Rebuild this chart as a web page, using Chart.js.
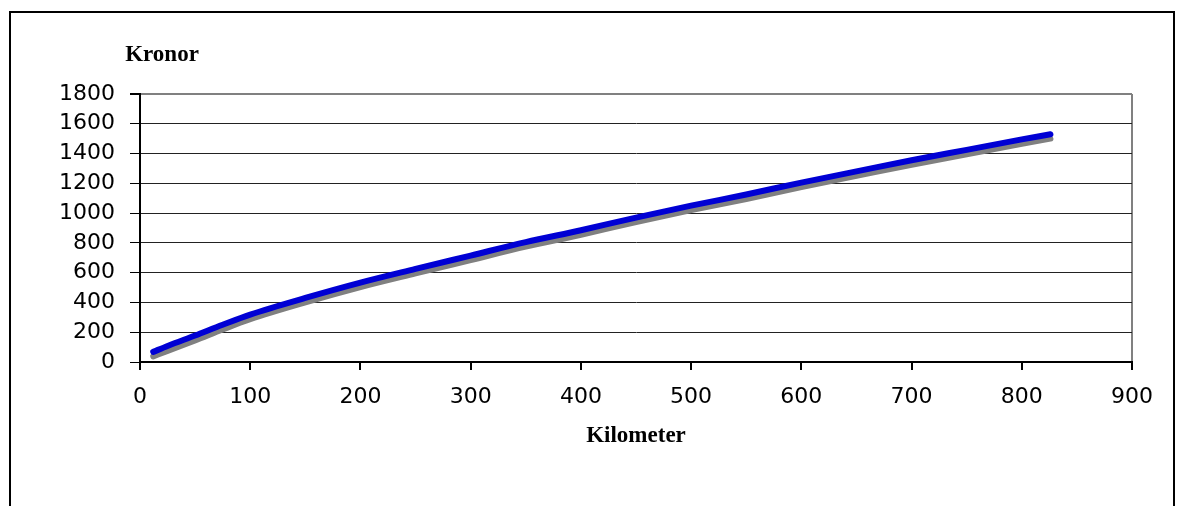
<!DOCTYPE html>
<html>
<head>
<meta charset="utf-8">
<script src="https://cdn.jsdelivr.net/npm/chart.js@4/dist/chart.umd.min.js"></script>
<style>
  html, body { margin: 0; padding: 0; background: #fff; }
  #wrap { position: relative; width: 1183px; height: 506px; overflow: hidden; }
  #c { position: absolute; left: 0; top: 0; }
  #frame { position: absolute; left: 9px; top: 11px; width: 1162px; height: 600px; border: 2px solid #000; pointer-events: none; }
</style>
</head>
<body>
<div id="wrap">
  <canvas id="c" width="1183" height="506"></canvas>
  <div id="frame"></div>
</div>
<script>
const km = [12, 25, 50, 75, 100, 150, 200, 250, 300, 350, 400, 450, 500, 550, 600, 650, 700, 750, 800, 826];
const kronorBlue = [68, 108, 178, 250, 318, 430, 533, 625, 715, 805, 885, 970, 1050, 1125, 1205, 1280, 1355, 1425, 1495, 1530];
const kronorGray = [38, 75, 145, 218, 287, 400, 503, 595, 685, 775, 855, 940, 1020, 1095, 1175, 1250, 1325, 1395, 1465, 1500];
const yTitle = 'Kronor';
const xTitle = 'Kilometer';

const tickFont = { family: 'DejaVu Sans', size: 22 };
const titleFont = { family: 'Liberation Serif', size: 23, weight: 'bold' };

const toPoints = vals => km.map((k, i) => ({ x: k, y: vals[i] }));

// "Kronor" sits above the y axis, horizontal
const yLabel = {
  id: 'yLabel',
  afterDraw(chart) {
    const ctx = chart.ctx;
    ctx.save();
    ctx.font = 'bold 23px "Liberation Serif"';
    ctx.fillStyle = '#000';
    ctx.textAlign = 'center';
    ctx.textBaseline = 'alphabetic';
    ctx.fillText(yTitle, chart.chartArea.left + 22, chart.chartArea.top - 33);
    ctx.restore();
  }
};

const bg = {
  id: 'bg',
  beforeDraw(chart) {
    const ctx = chart.ctx;
    ctx.save();
    ctx.fillStyle = '#fff';
    ctx.fillRect(0, 0, chart.width, chart.height);
    ctx.restore();
  }
};

new Chart(document.getElementById('c'), {
  type: 'line',
  data: {
    datasets: [
      {
        data: toPoints(kronorBlue),
        borderColor: '#0000d4',
        borderWidth: 6,
        borderCapStyle: 'round',
        pointRadius: 0,
        cubicInterpolationMode: 'monotone',
        order: 1
      },
      {
        data: toPoints(kronorGray),
        borderColor: '#808080',
        borderWidth: 6,
        borderCapStyle: 'round',
        pointRadius: 0,
        cubicInterpolationMode: 'monotone',
        order: 2
      }
    ]
  },
  options: {
    responsive: false,
    animation: false,
    devicePixelRatio: 1,
    layout: { padding: { left: 0, top: 94, right: 51, bottom: 56 } },
    plugins: { legend: { display: false }, tooltip: { enabled: false } },
    scales: {
      x: {
        type: 'linear',
        min: 0,
        max: 900,
        afterFit: s => { s.height = 88; },
        ticks: { stepSize: 100, font: tickFont, color: '#000', padding: 14, maxRotation: 0, callback: v => String(v) },
        grid: {
          color: c => c.tick && c.tick.value === 900 ? '#808080' : 'rgba(0,0,0,0)',
          lineWidth: 2,
          tickColor: '#000',
          tickLength: 8
        },
        border: { color: '#000', width: 2 },
        title: { display: true, text: xTitle, font: titleFont, color: '#000', padding: 0 }
      },
      y: {
        min: 0,
        max: 1800,
        afterFit: s => { s.width = 140; },
        ticks: { stepSize: 200, font: tickFont, color: '#000', padding: 15, callback: v => String(v) },
        grid: {
          color: c => c.tick && c.tick.value === 1800 ? '#808080' : '#222',
          lineWidth: c => c.tick && c.tick.value === 1800 ? 2 : 1,
          tickColor: '#000',
          tickLength: 10
        },
        border: { color: '#000', width: 2 }
      }
    }
  },
  plugins: [bg, yLabel]
});
</script>
</body>
</html>
